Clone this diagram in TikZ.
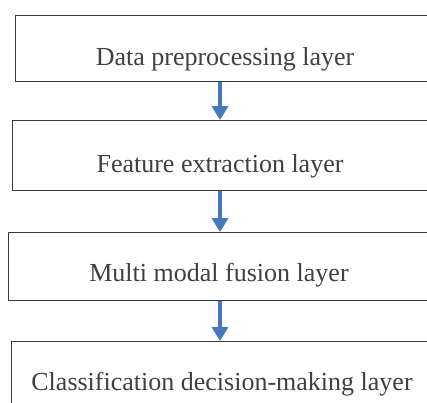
\documentclass[tikz,border=0pt]{standalone}
\usepackage{fontspec}
\setmainfont{Liberation Serif}
\usetikzlibrary{arrows.meta}
\definecolor{boxline}{HTML}{3A3A3A}
\definecolor{txt}{HTML}{404040}
\definecolor{arrowblue}{HTML}{4677BF}
\tikzset{
  box/.style={draw=boxline, line width=1.3pt, rectangle, anchor=north west, inner sep=0pt},
  lbl/.style={text=txt, font=\fontsize{26}{30}\selectfont, inner sep=0pt, anchor=base},
  flow/.style={draw=arrowblue, line width=4.5pt, -{Triangle[width=16pt,length=14pt]}}
}
\begin{document}
\begin{tikzpicture}[x=1pt,y=-1pt]
\useasboundingbox (0,0) rectangle (427,402);
\clip (0,0) rectangle (427,402);
\node[box, minimum width=430pt, minimum height=66pt] (b1) at (15,15) {};
\node[box, minimum width=430pt, minimum height=70pt] (b2) at (12,120) {};
\node[box, minimum width=430pt, minimum height=68pt] (b3) at (8,232) {};
\node[box, minimum width=430pt, minimum height=70pt] (b4) at (11,341) {};
\node[lbl] (t1) at (225,65) {Data preprocessing layer};
\node[lbl] (t2) at (220,172) {Feature extraction layer};
\node[lbl] (t3) at (219,281) {Multi modal fusion layer};
\node[lbl] (t4) at (222,390) {Classification decision-making layer};
\coordinate (ax) at (220,0);
\draw[flow] (b1.south -| ax) -- (b2.north -| ax);
\draw[flow] (b2.south -| ax) -- (b3.north -| ax);
\draw[flow] (b3.south -| ax) -- (b4.north -| ax);
\end{tikzpicture}
\end{document}
